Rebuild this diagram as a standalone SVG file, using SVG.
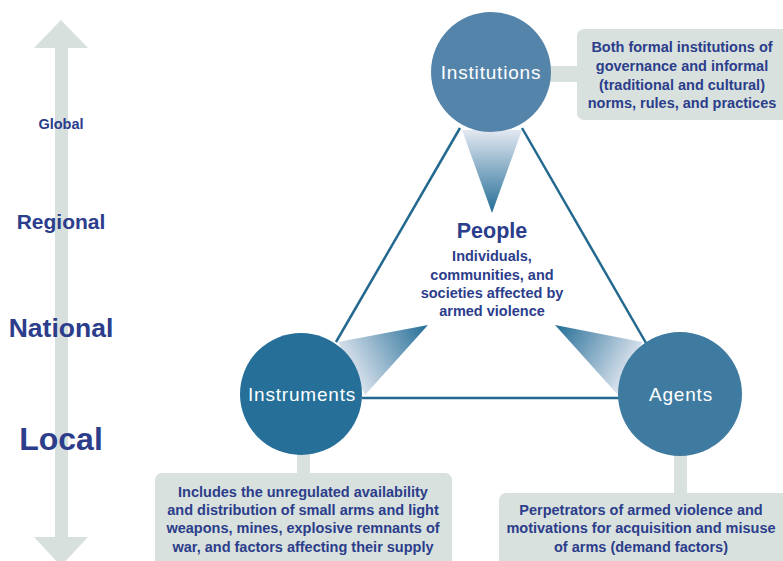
<svg xmlns="http://www.w3.org/2000/svg" width="783" height="561" viewBox="0 0 783 561">
<style>
.t{font-family:"Liberation Sans",Arial,sans-serif;font-weight:bold;fill:#2b3d8b;text-anchor:middle}
.w{font-family:"Liberation Sans",Arial,sans-serif;fill:#ffffff;text-anchor:middle;font-size:19px;letter-spacing:0.8px}
.box{fill:#d8e1dd}
.ln{stroke:#23698f;stroke-width:2.5;fill:none}
.d{font-size:14.5px}
</style>
<defs>
<linearGradient id="gTop" x1="0" y1="0" x2="0" y2="1"><stop offset="0" stop-color="#e3e8f1"/><stop offset="1" stop-color="#236d96"/></linearGradient>
<linearGradient id="gL" gradientUnits="userSpaceOnUse" x1="345" y1="370" x2="428" y2="325"><stop offset="0" stop-color="#e3e8f1"/><stop offset="1" stop-color="#236d96"/></linearGradient>
<linearGradient id="gR" gradientUnits="userSpaceOnUse" x1="635" y1="370" x2="555" y2="325"><stop offset="0" stop-color="#e3e8f1"/><stop offset="1" stop-color="#236d96"/></linearGradient>
</defs>
<g id="scale">
<rect x="55" y="46" width="13" height="492" fill="#d7e0dc"/>
<polygon points="61,20 88,48 34,48" fill="#d7e0dc"/>
<polygon points="61,566 88,537 34,537" fill="#d7e0dc"/>
<text class="t" x="61" y="129" font-size="14.5">Global</text>
<text class="t" x="61" y="229" font-size="21">Regional</text>
<text class="t" x="61" y="337" font-size="26.5">National</text>
<text class="t" x="61" y="450" font-size="32">Local</text>
</g>
<g id="connectors">
<line class="ln" x1="460" y1="128" x2="336" y2="342"/>
<line class="ln" x1="522" y1="128" x2="646" y2="343"/>
<line class="ln" x1="362" y1="398" x2="620" y2="398"/>
<rect class="box" x="548" y="66" width="32" height="16"/>
<rect class="box" x="297" y="450" width="13" height="26"/>
<rect class="box" x="674" y="450" width="13" height="46"/>
<polygon points="462,130 522,130 492,213" fill="url(#gTop)"/>
<polygon points="338,342 365,395 428,325" fill="url(#gL)"/>
<polygon points="642,342 618,395 555,325" fill="url(#gR)"/>
</g>
<g id="institutions">
<circle cx="491" cy="72" r="60" fill="#5584aa"/>
<text class="w" x="491" y="79">Institutions</text>
</g>
<g id="instruments">
<circle cx="301" cy="394" r="61" fill="#256f98"/>
<text class="w" x="302" y="401">Instruments</text>
</g>
<g id="agents">
<circle cx="680" cy="394" r="62" fill="#3f7ba0"/>
<text class="w" x="681" y="401">Agents</text>
</g>
<g id="people">
<text class="t" x="492" y="238" font-size="21.5">People</text>
<text class="t" x="492" y="261" font-size="14.5">Individuals,</text>
<text class="t" x="492" y="280" font-size="14.5">communities, and</text>
<text class="t" x="492" y="298" font-size="14.5">societies affected by</text>
<text class="t" x="492" y="316" font-size="14.5">armed violence</text>
</g>
<g id="institutions-desc">
<rect class="box" x="577" y="29" width="214" height="91" rx="7"/>
<text class="t d" x="682" y="52">Both formal institutions of</text>
<text class="t d" x="682" y="71">governance and informal</text>
<text class="t d" x="682" y="90">(traditional and cultural)</text>
<text class="t d" x="682" y="108">norms, rules, and practices</text>
</g>
<g id="instruments-desc">
<rect class="box" x="155" y="473" width="297" height="100" rx="7"/>
<text class="t d" x="303" y="497">Includes the unregulated availability</text>
<text class="t d" x="303" y="515">and distribution of small arms and light</text>
<text class="t d" x="303" y="533">weapons, mines, explosive remnants of</text>
<text class="t d" x="303" y="552">war, and factors affecting their supply</text>
</g>
<g id="agents-desc">
<rect class="box" x="499" y="493" width="295" height="80" rx="7"/>
<text class="t d" x="641" y="515">Perpetrators of armed violence and</text>
<text class="t d" x="641" y="533">motivations for acquisition and misuse</text>
<text class="t d" x="641" y="552">of arms (demand factors)</text>
</g>
</svg>
